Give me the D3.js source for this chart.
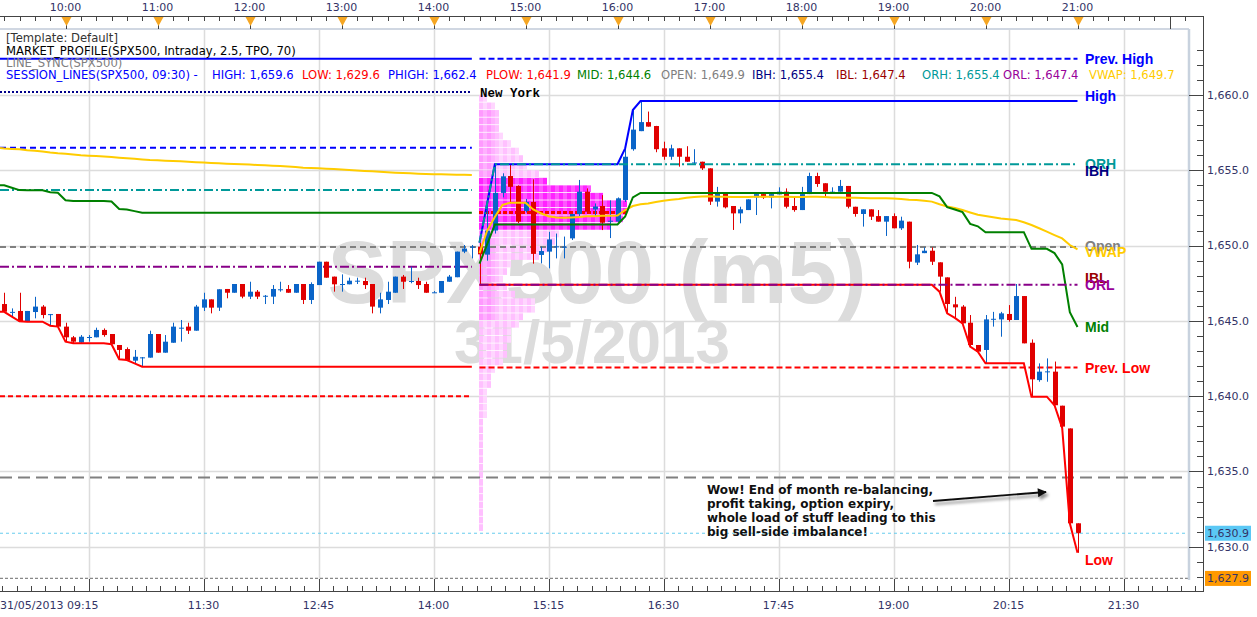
<!DOCTYPE html>
<html><head><meta charset="utf-8">
<script src="https://cdn.jsdelivr.net/npm/d3@7"></script>
<style>
body{margin:0;background:#fff;}
svg{display:block;}
</style></head><body>
<svg id="chart" width="1257" height="617"></svg>
<script>
// ---------------- DATA ----------------
const sessionDate = "2013-05-31";
const firstBar = "09:15";          // first bar time (5-minute bars)
const nyStartIndex = 63;           // 14:30 bar, start of New York session
const opens = [1645.9,1646.12,1645.55,1645.66,1644.95,1645.59,1645.95,1645.4,1645.46,1644.62,1643.91,1643.56,1643.9,1643.91,1644.4,1644.13,1643.4,1643.13,1642.36,1642.58,1642.56,1644.13,1642.89,1643.55,1644.5,1644.62,1644.35,1645.88,1646.43,1645.88,1647.12,1646.87,1647.45,1646.61,1646.94,1646.65,1646.61,1647.07,1647.12,1646.87,1647.45,1646.39,1647.38,1648.93,1647.94,1647.4,1647.43,1647.63,1647.65,1647.45,1645.88,1646.39,1646.87,1647.94,1647.6,1647.65,1647.45,1646.88,1646.87,1647.6,1647.9,1649.6,1649.9,
1649.93,1649.4,1651.0,1653.5,1654.62,1653.96,1652.3,1652.9,1649.38,1649.6,1649.9,1649.9,1650.48,1652.1,1653.58,1652.4,1652.63,1651.6,1651.6,1653.03,1656.4,1657.6,1658.2,1657.94,1656.46,1655.9,1656.46,1655.9,1655.5,1655.57,1655.13,1652.92,1653.47,1652.63,1652.14,1652.36,1653.2,1653.42,1653.2,1653.4,1653.58,1652.63,1652.36,1653.42,1654.62,1654.14,1653.55,1653.58,1653.96,1652.58,1652.1,1652.41,1651.96,1651.59,1651.96,1651.15,1651.59,1648.87,1649.5,1649.66,1648.89,1647.89,1646.1,1645.95,1644.88,1643.4,1643.07,1645.1,1645.1,1645.46,1645.06,1646.65,1643.55,1641.07,1641.6,1641.63,1639.37,1637.86,1631.56];
const highs = [1646.2,1646.87,1645.83,1646.87,1645.66,1646.6,1646.05,1645.46,1645.46,1644.88,1644.0,1644.06,1644.06,1644.55,1644.5,1644.13,1643.4,1643.24,1643.07,1642.6,1644.35,1644.13,1644.06,1644.88,1645.06,1644.88,1646.06,1646.87,1646.43,1647.1,1647.12,1647.45,1647.45,1647.6,1647.05,1646.72,1647.38,1647.6,1647.38,1647.45,1647.45,1647.56,1648.93,1648.93,1647.94,1648.09,1647.87,1647.87,1647.87,1647.45,1646.87,1647.6,1647.94,1648.05,1648.6,1647.87,1647.6,1646.98,1647.65,1648.05,1649.6,1650.04,1650.04,
1650.2,1652.8,1655.4,1654.8,1655.35,1654.0,1653.1,1654.4,1649.93,1650.92,1650.8,1650.6,1652.1,1654.36,1653.8,1652.8,1653.35,1653.0,1653.2,1656.46,1659.0,1659.6,1658.9,1657.95,1656.9,1656.7,1656.46,1656.6,1656.4,1655.57,1655.13,1653.9,1653.47,1652.63,1652.58,1653.07,1653.42,1653.42,1653.42,1653.87,1653.8,1653.2,1653.9,1654.84,1654.84,1654.14,1653.87,1654.36,1653.96,1652.58,1652.41,1652.41,1652.36,1651.96,1652.14,1651.92,1651.59,1650.04,1649.88,1649.88,1648.89,1647.89,1646.6,1646.05,1645.39,1643.4,1645.39,1645.6,1645.6,1646.05,1647.45,1646.65,1643.77,1642.18,1642.51,1642.3,1639.37,1637.86,1631.56];
const lows = [1645.6,1645.6,1645.28,1644.97,1644.95,1645.17,1645.17,1644.68,1644.62,1643.62,1643.51,1643.51,1643.62,1643.91,1643.95,1643.45,1642.45,1642.4,1642.18,1641.96,1642.56,1642.89,1642.89,1643.55,1643.62,1644.13,1644.35,1645.66,1645.5,1645.66,1646.5,1646.87,1646.5,1646.45,1646.45,1646.12,1646.12,1646.94,1646.87,1646.87,1646.12,1646.12,1647.38,1647.87,1646.94,1646.94,1647.43,1647.45,1647.12,1645.5,1645.5,1646.12,1646.87,1647.12,1647.5,1647.12,1646.87,1646.87,1646.87,1647.6,1647.9,1649.5,1649.15,
1647.4,1649.0,1650.8,1653.2,1652.8,1651.5,1652.2,1648.8,1648.82,1648.49,1649.15,1649.15,1650.37,1651.92,1652.1,1651.9,1651.03,1650.5,1651.55,1652.9,1656.3,1657.6,1657.9,1656.2,1655.7,1655.7,1655.24,1655.57,1655.35,1655.02,1652.7,1652.59,1652.47,1651.04,1651.48,1652.36,1652.03,1653.1,1652.47,1653.4,1652.47,1652.25,1652.36,1653.42,1653.9,1653.25,1653.47,1653.58,1652.47,1651.92,1651.26,1651.7,1651.59,1650.64,1651.15,1651.04,1648.49,1648.71,1649.5,1648.71,1646.94,1645.5,1645.2,1644.84,1643.29,1642.96,1642.18,1644.62,1643.95,1644.95,1645.06,1643.51,1639.97,1640.96,1640.96,1639.4,1637.9,1631.56,1629.6];
const closes = [1645.7,1645.61,1645.6,1644.97,1645.66,1645.95,1645.39,1645.45,1644.62,1643.91,1643.62,1643.95,1643.93,1644.4,1644.06,1643.45,1643.07,1642.4,1642.62,1642.58,1644.13,1642.89,1643.62,1644.62,1644.55,1644.35,1645.95,1646.43,1645.88,1647.1,1646.87,1647.45,1646.61,1646.94,1646.61,1646.67,1647.12,1647.1,1646.87,1647.45,1646.39,1647.45,1648.93,1647.87,1647.43,1647.45,1647.67,1647.67,1647.38,1645.95,1646.43,1646.94,1647.94,1647.6,1647.65,1647.38,1646.87,1646.9,1647.65,1647.94,1649.6,1649.8,1649.93,
1649.42,1651.0,1653.5,1654.6,1653.9,1651.59,1652.9,1649.45,1649.64,1650.41,1649.95,1649.93,1652.1,1653.58,1652.25,1652.6,1651.52,1651.65,1653.14,1655.9,1657.7,1658.2,1657.9,1656.4,1655.9,1656.46,1655.9,1655.57,1655.52,1655.13,1652.92,1653.47,1652.54,1652.14,1652.41,1653.07,1653.42,1653.2,1653.42,1653.58,1652.58,1652.36,1653.42,1654.62,1654.09,1653.58,1653.58,1653.96,1652.58,1652.1,1652.41,1651.92,1651.59,1651.96,1651.15,1651.66,1648.93,1649.42,1649.66,1648.93,1647.94,1646.12,1645.9,1644.84,1643.4,1642.96,1645.1,1645.14,1645.5,1645.06,1646.65,1643.51,1641.12,1641.63,1641.65,1639.4,1637.98,1631.56,1630.9];

// London (pre-New York) session VWAP, one value per bar 0..62
const londonVwap = [1656.48,1656.45,1656.42,1656.4,1656.33,1656.3,1656.25,1656.18,1656.13,1656.1,1656.05,1656.0,1655.97,1655.95,1655.92,1655.88,1655.84,1655.8,1655.76,1655.72,1655.68,1655.66,1655.64,1655.62,1655.6,1655.57,1655.54,1655.51,1655.49,1655.46,1655.44,1655.42,1655.4,1655.38,1655.35,1655.33,1655.31,1655.28,1655.25,1655.22,1655.17,1655.15,1655.13,1655.11,1655.09,1655.06,1655.02,1654.99,1654.96,1654.94,1654.9,1654.87,1654.84,1654.82,1654.8,1654.77,1654.75,1654.74,1654.73,1654.72,1654.71,1654.7,1654.69];
// New York session VWAP, one value per bar 63..141
const nyVwap = [1649.5,1651.0,1651.9,1652.7,1652.85,1652.85,1652.85,1652.4,1652.15,1651.95,1651.87,1651.85,1651.87,1651.9,1651.95,1651.95,1651.98,1651.99,1652.0,1652.36,1652.63,1652.74,1652.8,1652.9,1652.98,1653.05,1653.1,1653.17,1653.22,1653.26,1653.28,1653.25,1653.24,1653.22,1653.22,1653.23,1653.24,1653.25,1653.25,1653.25,1653.24,1653.23,1653.23,1653.24,1653.24,1653.23,1653.2,1653.2,1653.18,1653.17,1653.16,1653.15,1653.15,1653.14,1653.12,1653.1,1653.05,1653.03,1652.98,1652.92,1652.75,1652.6,1652.5,1652.36,1652.2,1652.05,1651.96,1651.88,1651.8,1651.75,1651.7,1651.55,1651.37,1651.15,1650.93,1650.7,1650.48,1650.04,1649.75];

const londonSessionHigh = 1662.4;
const londonLevelNames  = ["dotNavy","dashBlue","dashDotTeal","dashDotPurple","dashRed"];
const londonLevelValues = [1660.2, 1656.5, 1653.7, 1648.6, 1640.0];
const prevHigh = 1662.4, prevLow = 1641.9, nyOpen = 1649.9;
const orBars = 6;                  // opening range = first 30 minutes
const longDashLevel = 1634.6;
const lastPrice = 1630.9, axisLowPrice = 1627.9;

// market profile (TPO counts per 0.5 price row, row bottom price)
const profileRowPrices = [1659.5,1659,1658.5,1658,1657.5,1657,1656.5,1656,1655.5,1655,1654.5,1654,1653.5,1653,1652.5,1652,1651.5,1651,1650.5,1650,1649.5,1649,1648.5,1648,1647.5,1647,1646.5,1646,1645.5,1645,1644.5,1644,1643.5,1643,1642.5,1642,1641.5,1641,1640.5,1640,1639.5,1639,1638.5,1638,1637.5,1637,1636.5,1636,1635.5,1635,1634.5,1634,1633.5,1633,1632.5,1632,1631.5,1631];
const profileTpoCounts = [2,4,5,5,5,6,8,10,11,12,15,17,28,31,37,37,36,33,20,19,17,15,8,7,6,7,9,14,14,11,10,8,8,7,7,6,4,3,3,2,2,2,2,1,1,1,1,1,1,1,1,1,1,1,1,1,1,1];
const valueAreaHigh = 1654.5, valueAreaLow = 1651.0, pocPrice = 1652.2;

const headerLines = ["[Template: Default]","MARKET_PROFILE(SPX500, Intraday, 2.5, TPO, 70)","LINE_SYNC(SPX500)"];
const statNames  = ["HIGH","LOW","PHIGH","PLOW","MID","OPEN","IBH","IBL","ORH","ORL","VWAP"];
const statValues = [1659.6,1629.6,1662.4,1641.9,1644.6,1649.9,1655.4,1647.4,1655.4,1647.4,1649.7];
const labelNames  = ["Prev. High","High","ORH","IBH","Open","VWAP","IBL","ORL","Mid","Prev. Low","Low"];
const labelValues = [1662.4,1659.6,1655.4,1655.4,1649.9,1649.7,1647.4,1647.4,1644.6,1641.9,1629.6];
const topHourLabels = ["10:00","11:00","12:00","13:00","14:00","15:00","16:00","17:00","18:00","19:00","20:00","21:00"];
const bottomLabels = ["11:30","12:45","14:00","15:15","16:30","17:45","19:00","20:15","21:30"];
const dateLabel = "31/05/2013 09:15";
const priceTicks = [1630,1635,1640,1645,1650,1655,1660];
const watermark = ["SPX500 (m5)","31/5/2013"];
const note = ["Wow! End of month re-balancing,","profit taking, option expiry,","whole load of stuff leading to this","big sell-side imbalance!"];

// ---------------- SETUP ----------------
const svg = d3.select("#chart");
const plot = {l:0, r:1189, t:29, b:580};
const MIN = 60000;
const parseT = s => new Date(sessionDate+"T"+s+":00");
const t0 = parseT(firstBar);
const x = d3.scaleTime().domain([t0, new Date(+t0+60*MIN)]).range([-3.5, 88.5]);
const y = d3.scaleLinear().domain([1630,1660]).range([546.8,95]);
const bt = k => new Date(+t0 + k*5*MIN);
const bx = k => x(bt(k));
const FONT = "'DejaVu Sans', Verdana, sans-serif";
const AXC = "#333366";

const nBars = opens.length;
const lonIdx = d3.range(0, nyStartIndex);
const nyIdx = d3.range(nyStartIndex, nBars);

// derived session lines (running high/low like the SESSION_LINES indicator)
let m = Infinity;
const lonLow = lonIdx.map(k => (m = Math.min(m, lows[k])));
const lonMid = lonLow.map(v => (londonSessionHigh + v)/2);
let hh=-Infinity, ll=Infinity;
const nyHigh = [], nyLow = [];
nyIdx.forEach(k=>{hh=Math.max(hh,highs[k]); ll=Math.min(ll,lows[k]); nyHigh.push(hh); nyLow.push(ll);});
const nyMid = nyHigh.map((h,i)=>(h+nyLow[i])/2);
const orh = nyHigh.map((h,i)=> i<orBars ? h : nyHigh[orBars-1]);
const orl = nyLow.map((l,i)=> i<orBars ? l : nyLow[orBars-1]);

svg.append("rect").attr("width",1257).attr("height",617).attr("fill","#fff");
const defs = svg.append("defs");
defs.append("clipPath").attr("id","pc").append("rect")
  .attr("x",plot.l).attr("y",plot.t).attr("width",plot.r-plot.l).attr("height",plot.b-plot.t);
const f = defs.append("filter").attr("id","sh").attr("x","-20%").attr("y","-200%").attr("width","140%").attr("height","500%");
f.append("feDropShadow").attr("dx",2).attr("dy",3).attr("stdDeviation",1.5).attr("flood-color","#000").attr("flood-opacity",0.45);
defs.append("marker").attr("id","ah").attr("viewBox","0 0 10 10").attr("refX",9).attr("refY",5)
  .attr("orient","auto").attr("markerUnits","userSpaceOnUse")
  .attr("markerWidth",13).attr("markerHeight",9)
  .append("path").attr("d","M0,0 L10,5 L0,10 z").attr("fill","#111");

const g = svg.append("g").attr("clip-path","url(#pc)");

// ---------------- GRID ----------------
const gridStart = parseT("10:15");
const gridTimes = d3.range(0, 10).map(i => new Date(+gridStart + i*75*MIN));
g.selectAll(".vg").data(gridTimes).join("line")
  .attr("x1",d=>Math.round(x(d))+0.5).attr("x2",d=>Math.round(x(d))+0.5)
  .attr("y1",plot.t).attr("y2",plot.b).attr("stroke","#dcdcdc").attr("stroke-width",1.5);
g.selectAll(".hg").data(priceTicks).join("line")
  .attr("x1",plot.l).attr("x2",plot.r).attr("y1",d=>Math.round(y(d))+0.5).attr("y2",d=>Math.round(y(d))+0.5)
  .attr("stroke","#dcdcdc").attr("stroke-width",1.5);

// ---------------- WATERMARK ----------------
g.append("text").attr("x",597).attr("y",303).attr("text-anchor","middle")
  .attr("font-family","'Liberation Sans', Arial, sans-serif").attr("font-weight","bold").attr("font-size",89)
  .attr("fill","#dcdcdc").text(watermark[0]);
g.append("text").attr("x",592).attr("y",363).attr("text-anchor","middle")
  .attr("font-family","'Liberation Sans', Arial, sans-serif").attr("font-weight","bold").attr("font-size",62)
  .attr("fill","#dcdcdc").text(watermark[1]);

// ---------------- MARKET PROFILE ----------------
const cellW = 4;
const px0 = bx(nyStartIndex) - 0.5;
const cells = [];
profileRowPrices.forEach((p,i)=>{
  for(let j=0;j<profileTpoCounts[i];j++) cells.push({p, j});
});
g.selectAll(".tpo").data(cells).join("rect")
  .attr("x",d=>px0 + d.j*cellW).attr("width",cellW)
  .attr("y",d=>y(d.p+0.5)).attr("height",d=>y(d.p)-y(d.p+0.5)-0.8)
  .attr("fill",d=>{
    const va = d.p>=valueAreaLow && d.p<valueAreaHigh;
    if(va) return d.j%2 ? "#ff55ff" : "#ff22ff";
    if(d.j<4 && d.p>=1645 && d.p<1659) return d.j%2 ? "#ffb0ff" : "#ff99ff";
    return d.j%2 ? "#ffd6ff" : "#ffc0ff";
  });
g.append("line").attr("x1",px0).attr("x2",px0+37*cellW).attr("y1",y(pocPrice)).attr("y2",y(pocPrice))
  .attr("stroke","#ff0000").attr("stroke-width",3).attr("stroke-dasharray","4,2");

// ---------------- LINES ----------------
function hline(v, x1, x2, color, dash, w){
  g.append("line").attr("x1",x1).attr("x2",x2).attr("y1",y(v)).attr("y2",y(v))
   .attr("stroke",color).attr("stroke-width",w||2).attr("stroke-dasharray",dash||null);
}
const lonX1 = plot.l, lonX2 = bx(nyStartIndex-1);
const nyX1 = bx(nyStartIndex), nyX2 = bx(nBars-1);
const lonStyles = {
  dotNavy:["#00008b","2,2"], dashBlue:["#0000ff","6,4"], dashDotTeal:["#009999","9,3,2,3"],
  dashDotPurple:["#880088","9,3,2,3"], dashRed:["#ff0000","5,3"]
};
londonLevelNames.forEach((n,i)=>hline(londonLevelValues[i], lonX1, lonX2, lonStyles[n][0], lonStyles[n][1]));
hline(londonSessionHigh, lonX1, lonX2, "#0000ff");
hline(longDashLevel, plot.l, plot.r, "#808080", "12,6", 2);
hline(nyOpen, plot.l, nyX2, "#808080", "6,4", 2);
hline(prevHigh, nyX1, nyX2, "#0000ff", "6,3", 2);
hline(prevLow, nyX1, nyX2, "#ff0000", "6,3", 2);

const line = d3.line().x(d=>d[0]).y(d=>y(d[1]));
function path(idx, vals, color, w, dash){
  g.append("path").attr("d", line(idx.map((k,i)=>[bx(k), vals[i]])))
   .attr("fill","none").attr("stroke",color).attr("stroke-width",w||2).attr("stroke-dasharray",dash||null);
}
function pathX(xs, vals, color, w, dash){
  g.append("path").attr("d", line(xs.map((xx,i)=>[xx, vals[i]])))
   .attr("fill","none").attr("stroke",color).attr("stroke-width",w||2).attr("stroke-dasharray",dash||null);
}
const lonXs = lonIdx.map(k=>Math.max(plot.l, bx(k)));
pathX(lonXs, londonVwap, "#ffcc00", 2);
pathX(lonXs, lonMid, "#008000", 2);

// ---------------- CANDLES ----------------
const bars = d3.range(nBars).map(k=>({k,o:opens[k],h:highs[k],l:lows[k],c:closes[k]}));
const col = d => d.c>=d.o ? "#0a64c8" : "#e00000";
g.selectAll(".wick").data(bars).join("line")
  .attr("x1",d=>Math.round(bx(d.k))+0.5).attr("x2",d=>Math.round(bx(d.k))+0.5)
  .attr("y1",d=>y(d.h)).attr("y2",d=>y(d.l)).attr("stroke",col).attr("stroke-width",1);
g.selectAll(".body").data(bars).join("rect")
  .attr("x",d=>Math.round(bx(d.k))-2).attr("width",5)
  .attr("y",d=>y(Math.max(d.o,d.c))).attr("height",d=>Math.max(1,y(Math.min(d.o,d.c))-y(Math.max(d.o,d.c))))
  .attr("fill",col);

pathX(lonXs, lonLow, "#ff0000", 2);
path(nyIdx, nyVwap, "#ffcc00", 2);
path(nyIdx, nyMid, "#008000", 2);
path(nyIdx, nyHigh, "#0000ff", 2);
path(nyIdx, nyLow, "#ff0000", 2);
path(nyIdx, orh, "#009999", 2, "9,3,2,3");
path(nyIdx, orl, "#880088", 2, "9,3,2,3");

hline(lastPrice, plot.l, 1203, "#66ccee", "3,3", 1);
hline(axisLowPrice, plot.l, plot.r, "#888888", "3,2", 1.2);

// ---------------- FRAME ----------------
svg.append("line").attr("x1",plot.l).attr("x2",plot.r).attr("y1",plot.t).attr("y2",plot.t).attr("stroke","#d0d7e2").attr("stroke-width",2);
svg.append("line").attr("x1",plot.r).attr("x2",plot.r).attr("y1",plot.t).attr("y2",plot.b).attr("stroke","#c8d2de").attr("stroke-width",2.5);

// ---------------- LABELS ON LINES ----------------
const labStyle = {
  "Prev. High":["#0000ff",0],"High":["#0000ff",-5],"ORH":["#009999",0],"IBH":["#000080",7],
  "Open":["#808080",-1],"VWAP":["#ffcc00",2],"IBL":["#990000",-7],"ORL":["#990099",0],
  "Mid":["#008000",0],"Prev. Low":["#ff0000",0],"Low":["#ff0000",7]
};
["Prev. High","High","ORH","IBH","Open","VWAP","IBL","ORL","Mid","Prev. Low","Low"].forEach(n=>{
  const i = labelNames.indexOf(n);
  svg.append("text").attr("x",1085).attr("y",y(labelValues[i])+labStyle[n][1])
    .attr("dy","0.36em").attr("font-family","'Liberation Sans', Arial, sans-serif").attr("font-weight","bold")
    .attr("font-size",14).attr("fill",labStyle[n][0]).text(n);
});
svg.append("text").attr("x",480).attr("y",y(1660.2)+1).attr("dy","0.32em")
  .attr("font-family","'Liberation Mono', 'Courier New', monospace").attr("font-weight","bold")
  .attr("font-size",12.5).attr("fill","#000").text("New York");

// ---------------- HEADER ----------------
const HFS = 11.6;
const hcol = ["#333333","#000000","#808080"];
headerLines.forEach((s,i)=>{
  svg.append("text").attr("x",6).attr("y",38+i*12.5).attr("dy","0.35em").attr("font-family",FONT)
    .attr("font-size",HFS).attr("fill",hcol[i]).text(s);
});
const statColors = ["#0000ff","#ff0000","#0000ff","#ff0000","#008000","#808080","#000080","#990000","#009999","#990099","#ffcc00"];
const statX = [212,302,388,486,577,661,752,836,922,1003,1089];
const fmt = d3.format(",.1f");
svg.append("text").attr("x",6).attr("y",75).attr("dy","0.35em").attr("font-family",FONT).attr("font-size",HFS)
  .attr("fill","#0000ff").text("SESSION_LINES(SPX500, 09:30) -");
statNames.forEach((n,i)=>{
  svg.append("text").attr("x",statX[i]).attr("y",75).attr("dy","0.35em").attr("font-family",FONT).attr("font-size",HFS)
    .attr("fill",statColors[i]).text(n+": "+fmt(statValues[i]));
});

// ---------------- TOP AXIS ----------------
const ax = svg.append("g");
ax.append("line").attr("x1",0).attr("x2",1203).attr("y1",16.5).attr("y2",16.5).attr("stroke","#444");
const topTicks = d3.timeMinute.every(10).range(parseT("09:20"), parseT("22:20")).filter(d=>x(d)<=1195);
ax.selectAll(".tt").data(topTicks).join("line")
  .attr("x1",d=>Math.round(x(d))+0.5).attr("x2",d=>Math.round(x(d))+0.5)
  .attr("y1",16.5).attr("y2",d=>d.getMinutes()===0?29:21).attr("stroke","#444");
const hourTimes = topHourLabels.map(parseT);
ax.selectAll(".tri").data(hourTimes).join("path")
  .attr("d",d=>{const cx=Math.round(x(d))+0.5; return `M${cx-5},17 L${cx+5},17 L${cx},26 Z`;})
  .attr("fill","#f5a623");
ax.selectAll(".tl").data(topHourLabels).join("text")
  .attr("x",(d,i)=>x(hourTimes[i])).attr("y",7).attr("dy","0.35em").attr("text-anchor","middle")
  .attr("font-family",FONT).attr("font-size",11).attr("fill",AXC).text(d=>d);

// ---------------- BOTTOM AXIS ----------------
ax.append("line").attr("x1",0).attr("x2",1203).attr("y1",591.5).attr("y2",591.5).attr("stroke","#444");
const minorStep = 75*MIN/8;
const bTicks = d3.range(-7, 9*8+6).map(i=>new Date(+gridStart + i*minorStep)).filter(d=>x(d)>=0 && x(d)<=1196);
ax.selectAll(".bt").data(bTicks).join("line")
  .attr("x1",d=>Math.round(x(d))+0.5).attr("x2",d=>Math.round(x(d))+0.5)
  .attr("y1",d=>Math.abs(((d-gridStart)/MIN)%75)<0.01?579:586).attr("y2",591.5).attr("stroke","#444");
const bTimes = bottomLabels.map(parseT);
ax.selectAll(".bl").data(bottomLabels).join("text")
  .attr("x",(d,i)=>x(bTimes[i])).attr("y",605).attr("dy","0.35em").attr("text-anchor","middle")
  .attr("font-family",FONT).attr("font-size",11).attr("fill",AXC).text(d=>d);
ax.append("text").attr("x",0).attr("y",605).attr("dy","0.35em").attr("font-family",FONT)
  .attr("font-size",11).attr("fill",AXC).text(dateLabel);

// ---------------- RIGHT AXIS ----------------
ax.append("line").attr("x1",1203.5).attr("x2",1203.5).attr("y1",16).attr("y2",592).attr("stroke","#444");
const minorP = d3.range(1628, 1664, 1);
ax.selectAll(".rt").data(minorP).join("line")
  .attr("x1",d=>d%5===0?1189:1197).attr("x2",1203.5)
  .attr("y1",d=>Math.round(y(d))+0.5).attr("y2",d=>Math.round(y(d))+0.5).attr("stroke","#444");
ax.selectAll(".rl").data(priceTicks).join("text")
  .attr("x",1207).attr("y",d=>y(d)).attr("dy","0.35em").attr("font-family",FONT)
  .attr("font-size",11).attr("fill",AXC).text(d=>fmt(d));
[[lastPrice,"#5bc8f5"],[axisLowPrice,"#ff9900"]].forEach(([v,c])=>{
  ax.append("rect").attr("x",1205).attr("y",y(v)-7.5).attr("width",46).attr("height",15).attr("fill",c);
  ax.append("text").attr("x",1207).attr("y",y(v)).attr("dy","0.35em").attr("font-family",FONT)
    .attr("font-size",11).attr("fill",AXC).text(fmt(v));
});

// ---------------- ANNOTATION ----------------
note.forEach((s,i)=>{
  svg.append("text").attr("x",707).attr("y",490+i*14).attr("dy","0.35em")
    .attr("font-family",FONT).attr("font-weight","bold").attr("font-size",12).attr("fill","#111").text(s);
});
svg.append("line").attr("x1",933).attr("y1",501).attr("x2",1046).attr("y2",492)
  .attr("stroke","#111").attr("stroke-width",1.8).attr("marker-end","url(#ah)").attr("filter","url(#sh)");
</script>
</body></html>
